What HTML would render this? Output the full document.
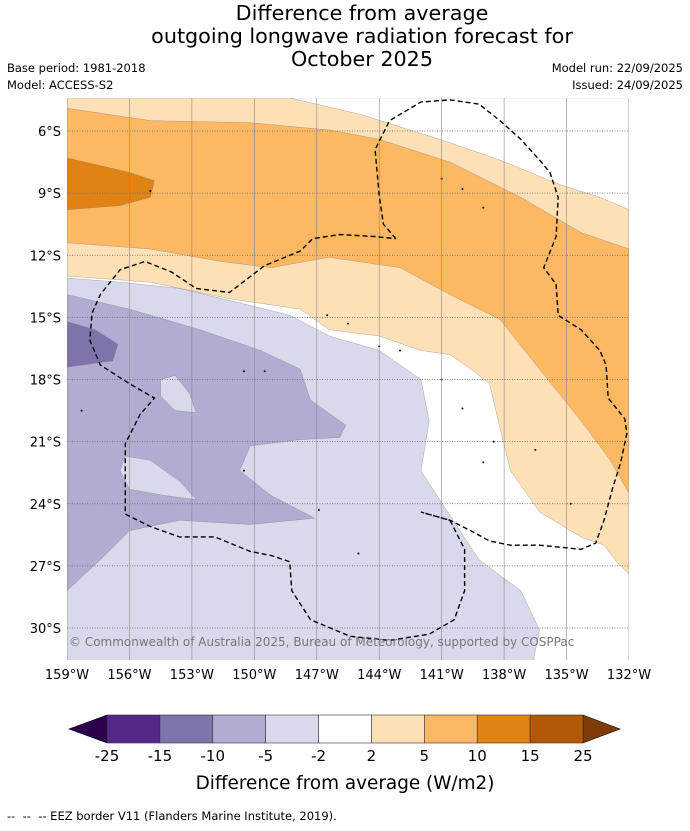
<!DOCTYPE html>
<html><head><meta charset="utf-8">
<style>
html,body{margin:0;padding:0;background:#fff;}
body{width:690px;height:827px;overflow:hidden;font-family:"DejaVu Sans","Liberation Sans",sans-serif;}
svg text{font-family:"DejaVu Sans","Liberation Sans",sans-serif;}
</style></head>
<body>
<svg id="chart" width="690" height="827" viewBox="0 0 690 827" xmlns="http://www.w3.org/2000/svg">
  <g font-size="20.7" text-anchor="middle" fill="#000">
    <text x="362" y="20">Difference from average</text>
    <text x="362" y="43">outgoing longwave radiation forecast for</text>
    <text x="362" y="66">October 2025</text>
  </g>
  <text x="7" y="72" font-size="11.5">Base period: 1981-2018</text>
  <text x="7" y="89" font-size="11.5">Model: ACCESS-S2</text>
  <text x="683" y="72" font-size="11.5" text-anchor="end">Model run: 22/09/2025</text>
  <text x="683" y="89" font-size="11.5" text-anchor="end">Issued: 24/09/2025</text>
  <defs><clipPath id="mapclip"><rect x="67" y="98" width="562" height="562"/></clipPath></defs>
  <g id="map" clip-path="url(#mapclip)"></g>
  <g id="axes"></g>
  <g id="cbar"></g>
  <text x="345" y="789" font-size="18.4" text-anchor="middle">Difference from average (W/m2)</text>
  <text x="7" y="820" font-size="11.5" xml:space="preserve">--  --  -- EEZ border V11 (Flanders Marine Institute, 2019).</text>
</svg>
<script>
// ---- data ----
const lonTicks = [-159,-156,-153,-150,-147,-144,-141,-138,-135,-132];
const latTicks = [-6,-9,-12,-15,-18,-21,-24,-27,-30];
const levels = [-25,-15,-10,-5,-2,2,5,10,15,25];
const levelColors = ["#542788","#8073ac","#b2abd2","#d8daeb","#ffffff","#fee0b6","#fdb863","#e08214","#b35806"];
const underColor = "#2d004b", overColor = "#7f3b08";
// contour regions [lon,lat] with anomaly class
const regionLightOrange = [[-159,-4.4],[-132,-4.4],[-132,-27.4],[-132.6,-26.8],[-133.2,-26],[-134.3,-25.6],[-136.3,-24.4],[-137.7,-22.4],[-138.4,-19.5],[-138.7,-18.2],[-139.6,-17.5],[-140.6,-16.8],[-142,-16.6],[-144,-15.9],[-146.4,-15.6],[-147.8,-14.6],[-151.2,-14.1],[-155,-13.3],[-159,-13]];
const regionWhiteTop = [[-148.3,-4.4],[-132,-4.4],[-132,-9.8],[-133.4,-9.2],[-135.3,-8.6],[-138.2,-7.4],[-141.1,-6.4],[-144.9,-5.2],[-148.3,-4.4]];
const regionOrange = [[-159,-4.9],[-155,-5.5],[-150.2,-5.6],[-146.4,-5.95],[-144,-6.4],[-140.6,-7.5],[-137.2,-9.2],[-134.3,-10.9],[-132,-11.7],[-132,-23.5],[-132.9,-21.9],[-134.3,-20],[-136.3,-17.5],[-138.2,-15.1],[-140.6,-13.9],[-143,-12.6],[-146.4,-12.1],[-149.2,-12.6],[-151.6,-12.3],[-155,-11.7],[-159,-11.4]];
const regionDarkOrange = [[-159,-7.3],[-156,-8],[-154.8,-8.4],[-155,-9.2],[-156.45,-9.6],[-159,-9.8]];
const regionLightPurple = [[-159,-13.1],[-156.45,-13.3],[-153.6,-13.6],[-150.7,-14.3],[-148.3,-14.9],[-146.4,-15.9],[-144,-16.6],[-142,-18],[-141.6,-20],[-142,-22.4],[-141.1,-23.8],[-139.2,-26.7],[-137.2,-28.2],[-136.3,-30.1],[-136.6,-31.6],[-159,-31.6]];
const regionMidPurple = [[-159,-13.9],[-156,-14.6],[-152.6,-15.6],[-149.7,-16.6],[-147.8,-17.5],[-147.3,-19],[-145.6,-20.2],[-145.9,-20.8],[-147.8,-20.9],[-150.2,-21.2],[-150.7,-22.4],[-149.2,-23.6],[-147.1,-24.7],[-150.2,-25],[-153.6,-24.8],[-156,-25.3],[-157.4,-26.7],[-159,-28.2]];
const regionHole1 = [[-154.5,-18],[-153.8,-17.8],[-153.1,-18.7],[-152.8,-19.6],[-153.8,-19.5],[-154.5,-18.8]];
const regionHole2 = [[-156.2,-21.7],[-155,-21.9],[-153.6,-22.9],[-152.8,-23.8],[-154.3,-23.6],[-156,-23.3],[-156.45,-22.4]];
const regionDarkPurple = [[-159,-15.2],[-157.65,-15.6],[-156.55,-16.3],[-156.8,-17.1],[-159,-17.4]];
const eezLine = [[-143.2,-11.2],[-143.8,-10.5],[-144,-9.1],[-144.2,-6.9],[-143.5,-5.5],[-142,-4.6],[-140.6,-4.5],[-139.2,-4.7],[-138.2,-5.5],[-137.2,-6.4],[-136.3,-7.4],[-135.8,-8],[-135.4,-9.2],[-135.5,-11.1],[-136.1,-12.6],[-135.5,-13.4],[-135.4,-14.9],[-134.3,-15.6],[-133.4,-16.6],[-133.1,-17.3],[-133,-18.9],[-132.2,-19.9],[-132.1,-20.6],[-132.4,-22],[-132.8,-23.3],[-133.2,-24.8],[-133.6,-25.9],[-134.3,-26.2],[-136.3,-26],[-137.7,-26],[-138.7,-25.8],[-139.6,-25.3],[-140.6,-24.8],[-142,-24.4],[-140.6,-24.8],[-139.9,-26.2],[-139.9,-28.2],[-140.4,-29.6],[-141.6,-30.3],[-143.5,-30.6],[-145.4,-30.4],[-147.3,-29.6],[-148.2,-28.2],[-148.3,-26.8],[-149.2,-26.5],[-150.2,-26.3],[-151.9,-25.6],[-153.6,-25.6],[-155,-25.1],[-156.2,-24.5],[-156.2,-21.1],[-155.5,-19.7],[-154.8,-18.9],[-156,-18.2],[-157.4,-17.3],[-157.9,-16.1],[-157.8,-14.8],[-157.4,-13.9],[-156.45,-12.7],[-155.25,-12.3],[-154,-12.8],[-152.8,-13.6],[-151.2,-13.8],[-149.5,-12.5],[-147.8,-11.8],[-147.2,-11.2],[-145.9,-11],[-144.2,-11.1],[-143.2,-11.2]];
const islands = [[-155,-8.9],[-141,-8.3],[-140,-8.8],[-139,-9.7],[-146.5,-14.9],[-145.5,-15.3],[-144,-16.4],[-143,-16.6],[-150.5,-17.6],[-149.5,-17.6],[-141,-18],[-140,-19.4],[-138.5,-21],[-139,-22],[-136.5,-21.4],[-134.8,-24],[-145,-26.4],[-146.9,-24.3],[-150.5,-22.4],[-158.3,-19.5]];

// ---- axis functions ----
const X0=67, X1=629, LON0=-159, LON1=-132;
const Y0=131, Y1=628, LAT0=-6, LAT1=-30;
const xS = lon => X0 + (lon-LON0)/(LON1-LON0)*(X1-X0);
const yS = lat => Y0 + (lat-LAT0)/(LAT1-LAT0)*(Y1-Y0);
const NS="http://www.w3.org/2000/svg";
function mk(tag, attrs, parent){const e=document.createElementNS(NS,tag);for(const k in attrs)e.setAttribute(k,attrs[k]);parent.appendChild(e);return e;}
const pts = arr => arr.map(p=>xS(p[0]).toFixed(1)+","+yS(p[1]).toFixed(1)).join(" ");
const map=document.getElementById('map');
mk('rect',{x:67,y:98,width:562,height:562,fill:'#ffffff'},map);
function region(arr, cls, name){
  const p=mk('polygon',{points:pts(arr),fill:levelColors[cls],stroke:'#777',"stroke-width":0.3},map);
  
  
}
region(regionLightOrange,5,'region-2-to-5');
region(regionWhiteTop,4,'region-neutral-top');
region(regionOrange,6,'region-5-to-10');
region(regionDarkOrange,7,'region-10-to-15');
region(regionLightPurple,3,'region-minus5-to-minus2');
region(regionMidPurple,2,'region-minus10-to-minus5');
region(regionHole1,3,'region-hole-1');
region(regionHole2,3,'region-hole-2');
region(regionDarkPurple,1,'region-minus15-to-minus10');
islands.forEach(p=>{
  const c=mk('circle',{cx:xS(p[0]),cy:yS(p[1]),r:1,fill:'#000'},map);
  
  
});
const axes=document.getElementById('axes');
lonTicks.forEach(l=>{
  const ln=mk('line',{x1:xS(l),x2:xS(l),y1:98,y2:660,stroke:'#888',"stroke-width":0.6},map);
  
  
  const t=mk('text',{x:xS(l),y:679,"font-size":13,"text-anchor":"middle"},axes);
  t.textContent=Math.abs(l)+"°W";
  
  
});
latTicks.forEach(l=>{
  const ln=mk('line',{x1:67,x2:629,y1:yS(l),y2:yS(l),stroke:'#666',"stroke-width":0.7,"stroke-dasharray":"1,1.5"},map);
  
  
  const t=mk('text',{x:61,y:yS(l)+5,"font-size":13,"text-anchor":"end"},axes);
  t.textContent=Math.abs(l)+"°S";
  
  
});
const eez=mk('polyline',{points:pts(eezLine),fill:'none',stroke:'#000',"stroke-width":1.4,"stroke-dasharray":"5,3"},map);


const cp=mk('text',{x:69,y:646,"font-size":12,fill:'#777'},map);
cp.textContent="© Commonwealth of Australia 2025, Bureau of Meteorology, supported by COSPPac";



// colorbar
const cb=document.getElementById('cbar');
const CB0=107, CB1=583, CBY=715, CBH=28;
const bw=(CB1-CB0)/levelColors.length;
const lt=mk('polygon',{points:`${CB0},${CBY} ${CB0},${CBY+CBH} 69,${CBY+CBH/2}`,fill:underColor,stroke:'#000',"stroke-width":0.6},cb);


const rt=mk('polygon',{points:`${CB1},${CBY} ${CB1},${CBY+CBH} 620,${CBY+CBH/2}`,fill:overColor,stroke:'#000',"stroke-width":0.6},cb);


levelColors.forEach((c,i)=>{
  const r=mk('rect',{x:CB0+i*bw,y:CBY,width:bw,height:CBH,fill:c,stroke:'#333',"stroke-width":0.6},cb);
  
  
});
levels.forEach((v,i)=>{
  const t=mk('text',{x:CB0+i*bw,y:761,"font-size":15,"text-anchor":"middle"},cb);
  t.textContent=String(v);
  
  
});
</script>
</body></html>
